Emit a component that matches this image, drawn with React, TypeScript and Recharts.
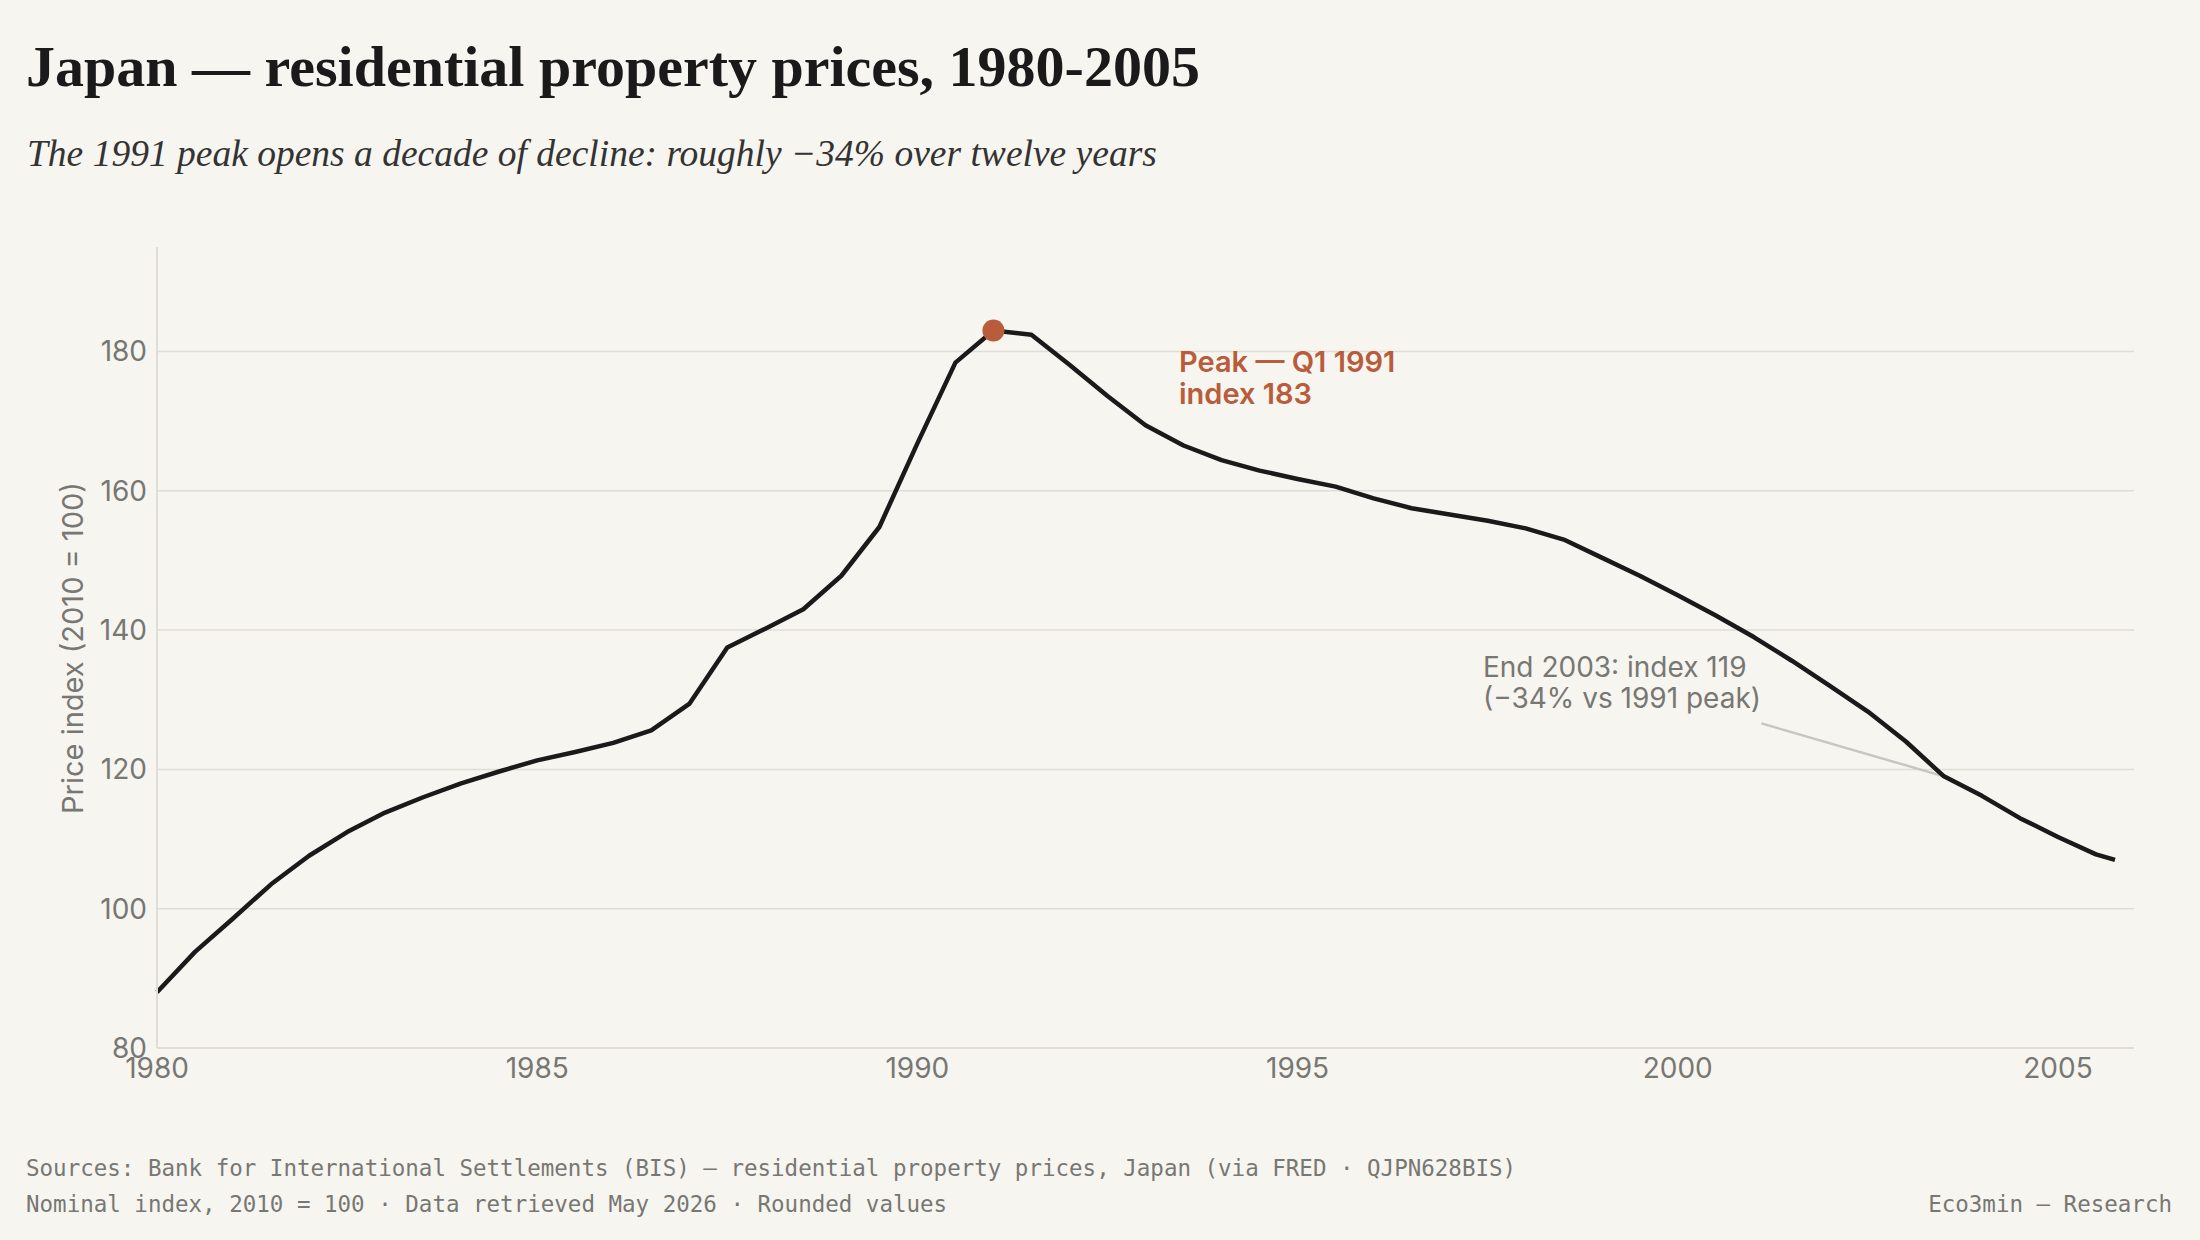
import React from "react";
import {
  CartesianGrid,
  Line,
  LineChart,
  ReferenceDot,
  ReferenceLine,
  XAxis,
  YAxis,
} from "recharts";

// Semi-annual observations (Q1 -> .0, Q3 -> .5), last point Q4 2005
const periods = [
  1980, 1980.5, 1981, 1981.5, 1982, 1982.5, 1983, 1983.5, 1984, 1984.5,
  1985, 1985.5, 1986, 1986.5, 1987, 1987.5, 1988, 1988.5, 1989, 1989.5,
  1990, 1990.5, 1991, 1991.5, 1992, 1992.5, 1993, 1993.5, 1994, 1994.5,
  1995, 1995.5, 1996, 1996.5, 1997, 1997.5, 1998, 1998.5, 1999, 1999.5,
  2000, 2000.5, 2001, 2001.5, 2002, 2002.5, 2003, 2003.5, 2004, 2004.5,
  2005, 2005.5, 2005.75,
];

const priceIndex = [
  88, 93.8, 98.6, 103.5, 107.6, 111.0, 113.8, 116.0, 118.0, 119.7,
  121.3, 122.5, 123.8, 125.6, 129.4, 137.5, 140.2, 143.0, 147.8, 154.8,
  166.8, 178.4, 183, 182.4, 178.1, 173.6, 169.4, 166.5, 164.4, 162.9,
  161.7, 160.6, 158.9, 157.5, 156.6, 155.7, 154.6, 153.0, 150.4, 147.8,
  145.0, 142.1, 139.0, 135.6, 132.0, 128.3, 124.0, 119, 116.2, 113.0,
  110.3, 107.8, 107.0,
];

const xTicks = [1980, 1985, 1990, 1995, 2000, 2005];
const yTicks = [80, 100, 120, 140, 160, 180];

const peak = { x: 1991, y: 183 };
const end2003 = { x: 2003.5, y: 119 };
const end2003LabelAnchor = { x: 2001.1, y: 126.6 };

const data = periods.map((p, i) => ({ period: p, value: priceIndex[i] }));

const BG = "#F7F5EF";
const INK = "#1a1a1a";
const MUTED = "#777774";
const ACCENT = "#B85C3C";
const GRID = "#e0ddd7";
const SANS = "Inter, 'Noto Sans', sans-serif";
const SERIF = "'Liberation Serif', 'DejaVu Serif', serif";
const MONO = "'DejaVu Sans Mono', 'Liberation Mono', monospace";

const W = 2200;
const H = 1240;

export default function App() {
  const tickStyle = { fill: MUTED, fontSize: 28, fontFamily: SANS };

  return (
    <div
      style={{
        position: "absolute",
        left: 0,
        top: 0,
        width: W,
        height: H,
        background: BG,
        overflow: "hidden",
      }}
    >
      <LineChart
        width={W}
        height={H}
        data={data}
        margin={{ top: 247, right: 66, bottom: 152, left: 97 }}
        style={{ position: "absolute", left: 0, top: 0 }}
      >
        <CartesianGrid
          vertical={false}
          horizontalValues={yTicks}
          stroke={GRID}
          strokeWidth={1.5}
        />
        <XAxis
          dataKey="period"
          type="number"
          domain={[1980, 2006]}
          ticks={xTicks}
          tickLine={false}
          tickSize={0}
          tickMargin={10}
          height={40}
          axisLine={{ stroke: GRID, strokeWidth: 2 }}
          tick={tickStyle}
          interval={0}
        />
        <YAxis
          type="number"
          domain={[80, 195]}
          ticks={yTicks}
          tickLine={false}
          tickSize={0}
          tickMargin={10}
          width={60}
          axisLine={{ stroke: GRID, strokeWidth: 2 }}
          tick={tickStyle}
          interval={0}
        />
        <ReferenceLine
          segment={[end2003LabelAnchor, end2003]}
          stroke="#c8c6c1"
          strokeWidth={2.5}
        />
        <Line
          type="linear"
          dataKey="value"
          stroke={INK}
          strokeWidth={4.5}
          strokeLinejoin="round"
          dot={false}
          activeDot={false}
          isAnimationActive={false}
        />
        <ReferenceDot x={peak.x} y={peak.y} r={11} fill={ACCENT} stroke="none" />
      </LineChart>

      <svg
        width={W}
        height={H}
        style={{ position: "absolute", left: 0, top: 0, pointerEvents: "none" }}
      >
        <text x={26} y={86} fontFamily={SERIF} fontWeight={700} fontSize={58} fill={INK}>
          Japan — residential property prices, 1980-2005
        </text>
        <text x={27} y={166} fontFamily={SERIF} fontStyle="italic" fontSize={37.5} fill="#333">
          The 1991 peak opens a decade of decline: roughly −34% over twelve years
        </text>

        <text
          x={72}
          y={648}
          transform="rotate(-90, 72, 648)"
          textAnchor="middle"
          dominantBaseline="central"
          fontFamily={SANS}
          fontSize={29}
          fill={MUTED}
        >
          Price index (2010 = 100)
        </text>

        <text fontFamily={SANS} fontWeight={600} fontSize={29} fill={ACCENT}>
          <tspan x={1179} y={372}>Peak — Q1 1991</tspan>
          <tspan x={1179} y={404}>index 183</tspan>
        </text>

        <text fontFamily={SANS} fontSize={28} fill={MUTED}>
          <tspan x={1483} y={677}>End 2003: index 119</tspan>
          <tspan x={1483} y={708}>(−34% vs 1991 peak)</tspan>
        </text>

        <text x={26} y={1176} fontFamily={MONO} fontSize={22.5} fill={MUTED}>
          Sources: Bank for International Settlements (BIS) — residential property prices, Japan (via FRED · QJPN628BIS)
        </text>
        <text x={26} y={1212} fontFamily={MONO} fontSize={22.5} fill={MUTED}>
          Nominal index, 2010 = 100 · Data retrieved May 2026 · Rounded values
        </text>
        <text x={2172} y={1212} textAnchor="end" fontFamily={MONO} fontSize={22.5} fill={MUTED}>
          Eco3min — Research
        </text>
      </svg>
    </div>
  );
}
